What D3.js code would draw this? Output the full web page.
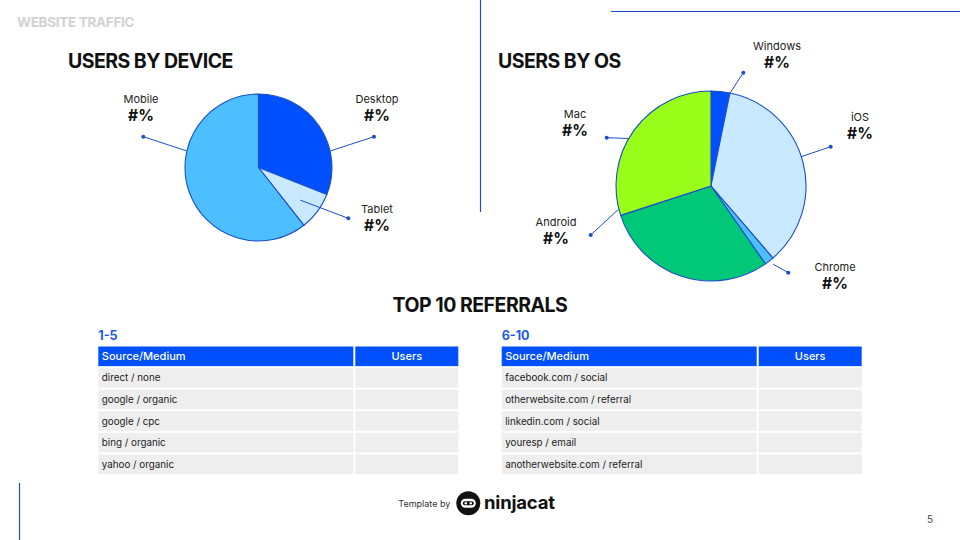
<!doctype html>
<html>
<head>
<meta charset="utf-8" />
<title>Website Traffic</title>
<script src="https://cdn.jsdelivr.net/npm/d3@7"></script>
<style>
  body{margin:0;padding:0;background:#fff;}
  svg{display:block;font-family:Inter, "Noto Sans", sans-serif;}
</style>
</head>
<body>
<script>
// ---- data ----
var deviceLabels = ["Desktop", "Tablet", "Mobile"];
var deviceValues = [31.0, 8.4, 60.6];
var deviceColors = ["#0050ff", "#c8e9ff", "#4dbfff"];

var osLabels = ["Windows", "iOS", "Chrome", "Android", "Mac"];
var osValues = [3.2, 35.5, 1.6, 29.7, 30.0];
var osColors = ["#0050ff", "#c8e9ff", "#4dbfff", "#00c878", "#99ff1a"];

var referrals1 = ["direct / none", "google / organic", "google / cpc", "bing / organic", "yahoo / organic"];
var referrals2 = ["facebook.com / social", "otherwebsite.com / referral", "linkedin.com / social", "youresp / email", "anotherwebsite.com / referral"];
var tableHeaders = ["Source/Medium", "Users"];

// ---- layout ----
var width = 960, height = 540;
var blue = "#0050ff", lineBlue = "#1a4fc8";

var svg = d3.select("body").append("svg").attr("width", width).attr("height", height);

// decorative lines
svg.append("line").attr("x1", 480.5).attr("x2", 480.5).attr("y1", 0).attr("y2", 212).attr("stroke", lineBlue).attr("stroke-width", 1.2);
svg.append("line").attr("x1", 611).attr("x2", 960).attr("y1", 11.5).attr("y2", 11.5).attr("stroke", lineBlue).attr("stroke-width", 1.2);
svg.append("line").attr("x1", 19.5).attr("x2", 19.5).attr("y1", 483).attr("y2", 540).attr("stroke", lineBlue).attr("stroke-width", 1.2);

svg.append("text").attr("x", 17).attr("y", 27.3).attr("font-size", 13.5).attr("font-weight", 700).attr("fill", "#d2d2d2").attr("letter-spacing", -0.3).text("WEBSITE TRAFFIC");
svg.append("text").attr("x", 68).attr("y", 67.7).attr("font-size", 19.5).attr("font-weight", 700).attr("fill", "#111").attr("letter-spacing", -0.55).text("USERS BY DEVICE");
svg.append("text").attr("x", 498).attr("y", 67.7).attr("font-size", 19.5).attr("font-weight", 700).attr("fill", "#111").attr("letter-spacing", -0.55).text("USERS BY OS");
svg.append("text").attr("x", 480).attr("y", 312).attr("text-anchor", "middle").attr("font-size", 19.5).attr("font-weight", 700).attr("fill", "#111").attr("letter-spacing", -0.5).text("TOP 10 REFERRALS");

// label placement for each slice: start point (angle deg, radius), dot, text centre
var deviceCallouts = {
  "Desktop": {a: 77, r: 74, dot: [374, 136.7], tx: 377, ty: 103.3},
  "Tablet":  {a: 128, r: 53, dot: [348.3, 218.3], tx: 377, ty: 213.3},
  "Mobile":  {a: 283, r: 74, dot: [143.3, 136.7], tx: 141, ty: 103.3}
};
var osCallouts = {
  "Windows": {a: 11.6, r: 95, dot: [743.3, 72.7], tx: 777, ty: 50},
  "iOS":     {a: 72, r: 95, dot: [830.7, 146.7], tx: 860, ty: 120.7},
  "Chrome":  {a: 141.5, r: 100, dot: [788.3, 272.7], tx: 835, ty: 271},
  "Android": {a: 256, r: 95, dot: [590.7, 235], tx: 556, ty: 225.7},
  "Mac":     {a: 300, r: 95, dot: [606.7, 137.7], tx: 575, ty: 118.3}
};

function drawPie(cx, cy, radius, labels, values, colors, callouts) {
  var g = svg.append("g").attr("transform", "translate(" + cx + "," + cy + ")");
  var pie = d3.pie().sort(null).value(function(d) { return d; });
  var arc = d3.arc().innerRadius(0).outerRadius(radius);
  var color = d3.scaleOrdinal().domain(labels).range(colors);

  g.selectAll("path").data(pie(values)).enter().append("path")
    .attr("d", arc)
    .attr("fill", function(d, i) { return color(labels[i]); })
    .attr("stroke", lineBlue).attr("stroke-width", 1.1).attr("stroke-linejoin", "round");

  labels.forEach(function(lab) {
    var c = callouts[lab];
    var p = d3.pointRadial(c.a * Math.PI / 180, c.r);
    svg.append("line").attr("x1", cx + p[0]).attr("y1", cy + p[1]).attr("x2", c.dot[0]).attr("y2", c.dot[1])
      .attr("stroke", lineBlue).attr("stroke-width", 1);
    svg.append("circle").attr("cx", c.dot[0]).attr("cy", c.dot[1]).attr("r", 2).attr("fill", lineBlue);
    svg.append("text").attr("x", c.tx).attr("y", c.ty).attr("text-anchor", "middle").attr("font-size", 11).attr("fill", "#222").text(lab);
    svg.append("text").attr("x", c.tx).attr("y", c.ty + 18).attr("text-anchor", "middle").attr("font-size", 15.5).attr("font-weight", 700).attr("fill", "#111").text("#%");
  });
}

drawPie(258.5, 167.5, 73.5, deviceLabels, deviceValues, deviceColors, deviceCallouts);
drawPie(711, 186, 95, osLabels, osValues, osColors, osCallouts);

// ---- tables ----
function drawTable(x0, title, rows) {
  var col = d3.scaleOrdinal().domain(tableHeaders).range([x0, x0 + 257]);
  var colW = [255, 103];
  var y = d3.scaleBand().domain(d3.range(rows.length + 1)).range([346.5, 474]).paddingInner(0.09);

  svg.append("text").attr("x", x0).attr("y", 339.5).attr("font-size", 12.5).attr("font-weight", 700).attr("fill", "#1f5be6").text(title);

  tableHeaders.forEach(function(h, j) {
    svg.append("rect").attr("x", col(h)).attr("y", y(0)).attr("width", colW[j]).attr("height", y.bandwidth()).attr("fill", blue);
    svg.append("text")
      .attr("x", j == 0 ? col(h) + 3.5 : col(h) + colW[j] / 2)
      .attr("y", y(0) + y.bandwidth() / 2 + 4)
      .attr("text-anchor", j == 0 ? "start" : "middle")
      .attr("font-size", 11).attr("font-weight", 500).attr("fill", "#fff").text(h);
  });

  rows.forEach(function(r, i) {
    tableHeaders.forEach(function(h, j) {
      svg.append("rect").attr("x", col(h)).attr("y", y(i + 1)).attr("width", colW[j]).attr("height", y.bandwidth()).attr("fill", "#eeeeee");
    });
    svg.append("text").attr("x", x0 + 3.5).attr("y", y(i + 1) + y.bandwidth() / 2 + 3.5)
      .attr("font-size", 9.8).attr("fill", "#222").text(r);
  });
}

drawTable(98.3, "1-5", referrals1);
drawTable(501.7, "6-10", referrals2);

// ---- footer ----
svg.append("text").attr("x", 398.3).attr("y", 506.5).attr("font-size", 9).attr("fill", "#333").text("Template by");
var logo = svg.append("g").attr("transform", "translate(468.3,503.3)");
logo.append("circle").attr("r", 12).attr("fill", "#111");
logo.append("rect").attr("x", -7.5).attr("y", -4.5).attr("width", 15).attr("height", 9).attr("rx", 4.5).attr("fill", "#fff");
logo.append("rect").attr("x", -5.5).attr("y", -2).attr("width", 11).attr("height", 4).attr("rx", 2).attr("fill", "#111");
logo.append("circle").attr("cx", -2.5).attr("cy", 0).attr("r", 1.2).attr("fill", "#fff");
logo.append("circle").attr("cx", 2.5).attr("cy", 0).attr("r", 1.2).attr("fill", "#fff");
svg.append("text").attr("x", 484).attr("y", 509).attr("font-size", 18.5).attr("font-weight", 700).attr("fill", "#111").attr("letter-spacing", -0.2).text("ninjacat");

svg.append("text").attr("x", 930).attr("y", 522.5).attr("text-anchor", "middle").attr("font-size", 10).attr("fill", "#444").text("5");
</script>
</body>
</html>
